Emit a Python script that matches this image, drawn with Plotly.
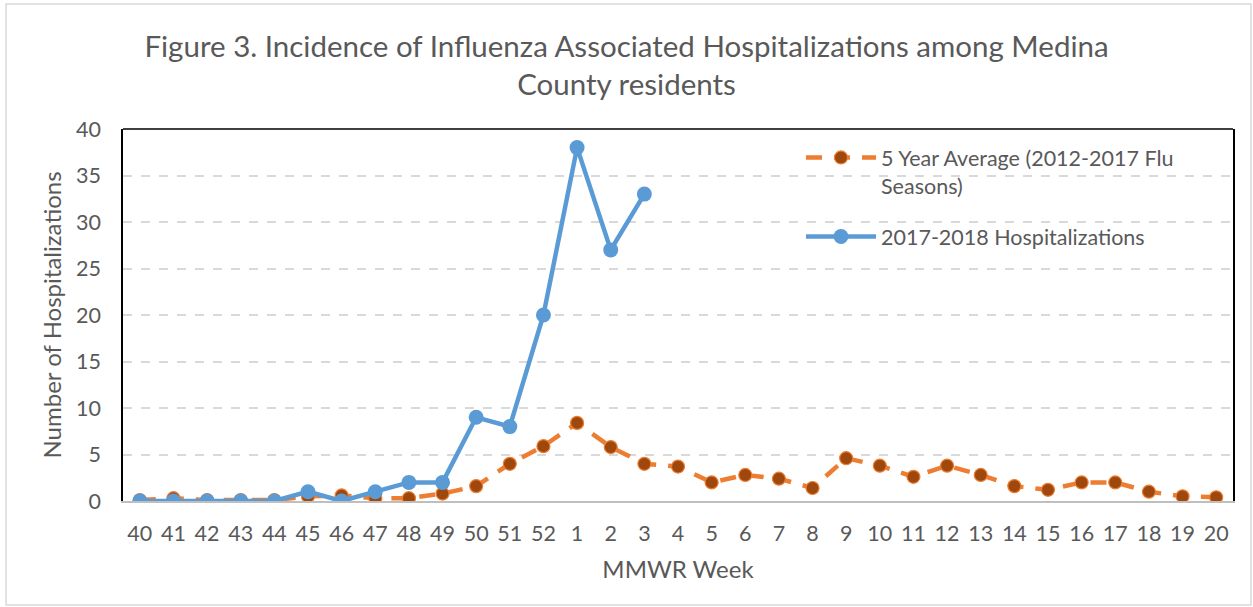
import plotly.graph_objects as go

weeks = ["40", "41", "42", "43", "44", "45", "46", "47", "48", "49", "50", "51", "52",
         "1", "2", "3", "4", "5", "6", "7", "8", "9", "10", "11", "12", "13", "14",
         "15", "16", "17", "18", "19", "20"]

avg_5yr = [0.1, 0.3, 0.1, 0.1, 0.1, 0.5, 0.6, 0.3, 0.3, 0.8, 1.6, 4.0, 5.9,
           8.4, 5.8, 4.0, 3.7, 2.0, 2.8, 2.4, 1.4, 4.6, 3.8, 2.6, 3.8, 2.8, 1.6,
           1.2, 2.0, 2.0, 1.0, 0.5, 0.4]

hosp_weeks = ["40", "41", "42", "43", "44", "45", "46", "47", "48", "49", "50", "51", "52",
              "1", "2", "3"]
hosp_2017_18 = [0, 0, 0, 0, 0, 1, 0, 1, 2, 2, 9, 8, 20, 38, 27, 33]

FONT = "Lato"
GREY = "#595959"

fig = go.Figure()

fig.add_trace(go.Scatter(
    x=weeks, y=avg_5yr, mode="lines+markers",
    name="5 Year Average (2012-2017 Flu<br>Seasons)",
    line=dict(color="#ED7D31", width=4.5, dash="16px,12px"),
    marker=dict(size=13, color="#9E480E", line=dict(color="#ED7D31", width=1.2)),
    legend="legend",
))

fig.add_trace(go.Scatter(
    x=hosp_weeks, y=hosp_2017_18, mode="lines+markers",
    name="2017-2018 Hospitalizations",
    line=dict(color="#5B9BD5", width=4.5),
    marker=dict(size=15, color="#5B9BD5"),
    legend="legend2",
))

L, R, T, B = 123, 20, 129, 106
W, H = 1253, 607
pw, ph = W - L - R, H - T - B

def px(xp):
    return (xp - L) / pw

def py(yp):
    return (H - B - yp) / ph

fig.update_layout(
    width=W, height=H,
    margin=dict(l=L, r=R, t=T, b=B),
    paper_bgcolor="white", plot_bgcolor="white",
    font=dict(family=FONT, color=GREY, size=21),
    title=dict(
        text="Figure 3. Incidence of Influenza Associated Hospitalizations among Medina<br>County residents",
        x=0.5, xref="container", xanchor="center",
        y=1 - 57 / H, yref="container", yanchor="top",
        font=dict(family=FONT, size=29.5, color=GREY),
    ),
    xaxis=dict(
        type="category", categoryorder="array", categoryarray=weeks,
        range=[-0.5, len(weeks) - 0.5], automargin=False,
        showline=True, linecolor="#BFBFBF", linewidth=2,
        showgrid=False, ticks="", ticklabelstandoff=12,
        tickfont=dict(size=21.5, color=GREY),
        title=dict(text="MMWR Week", font=dict(size=24, color=GREY), standoff=16),
        zeroline=False,
    ),
    yaxis=dict(
        range=[0, 40], dtick=5, tick0=0, automargin=False,
        showline=True, linecolor="black", linewidth=1.5, mirror=True,
        showgrid=True, gridcolor="#D9D9D9", gridwidth=1.5, griddash="dash",
        ticks="", ticklabelstandoff=16,
        tickfont=dict(size=21.5, color=GREY),
        title=dict(text="Number of Hospitalizations", font=dict(size=24, color=GREY), standoff=8),
        zeroline=False,
    ),
    legend=dict(
        x=px(801), y=py(137), xanchor="left", yanchor="top", valign="top",
        bgcolor="rgba(0,0,0,0)", itemwidth=70,
        font=dict(size=21.5, color=GREY),
    ),
    legend2=dict(
        x=px(801), y=py(216), xanchor="left", yanchor="top",
        bgcolor="rgba(0,0,0,0)", itemwidth=70,
        font=dict(size=21.5, color=GREY),
    ),
    showlegend=True,
    shapes=[
        dict(type="line", xref="paper", yref="paper", x0=0, x1=1, y0=1, y1=1,
             line=dict(color="black", width=1.5)),
        dict(type="rect", xref="paper", yref="paper",
             x0=px(6), x1=px(1251), y0=py(605), y1=py(4),
             line=dict(color="#D9D9D9", width=1.5), layer="below"),
    ],
)

fig.write_html(
    "out.html",
    config={"displayModeBar": False},
    post_script="document.body.style.margin='0';document.body.style.overflow='hidden';",
)
